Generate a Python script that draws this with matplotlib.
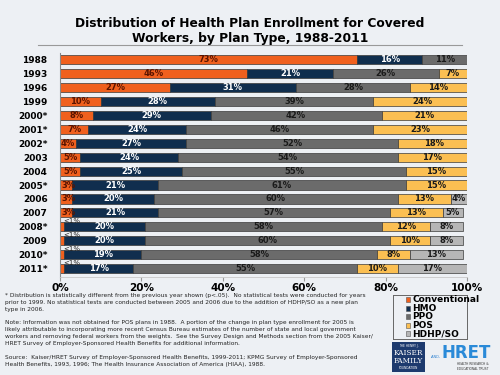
import matplotlib
matplotlib.use("Agg")
import matplotlib.pyplot as plt
from matplotlib.patches import Rectangle
import numpy as np

years = ["1988", "1993", "1996", "1999", "2000*", "2001*", "2002*", "2003", "2004",
         "2005*", "2006", "2007", "2008*", "2009", "2010*", "2011*"]
conventional = [73, 46, 27, 10, 8, 7, 4, 5, 5, 3, 3, 3, 1, 1, 1, 1]
hmo = [16, 21, 31, 28, 29, 24, 27, 24, 25, 21, 20, 21, 20, 20, 19, 17]
ppo = [11, 26, 28, 39, 42, 46, 52, 54, 55, 61, 60, 57, 58, 60, 58, 55]
pos = [0, 7, 14, 24, 21, 23, 18, 17, 15, 15, 13, 13, 12, 10, 8, 10]
hdhp = [0, 0, 0, 0, 0, 0, 0, 0, 0, 0, 4, 5, 8, 8, 13, 17]
conv_labels = ["73%", "46%", "27%", "10%", "8%", "7%", "4%", "5%", "5%", "3%", "3%", "3%",
               "<1%", "<1%", "<1%", "<1%"]
series_names = ["Conventional", "HMO", "PPO", "POS", "HDHP/SO"]
colors = ["#f0601e", "#102e4e", "#6b6b6b", "#fbbf52", "#b6b6b6"]
label_colors = ["#5a1400", "white", "#1a1a1a", "#1a1a1a", "#1a1a1a"]
xticks = [0, 20, 40, 60, 80, 100]
xtick_labels = ["0%", "20%", "40%", "60%", "80%", "100%"]

bg = "#edf0f4"
fig = plt.figure(figsize=(5, 3.75), dpi=100, facecolor=bg)
ax = fig.add_axes([0.12, 0.261, 0.814, 0.598], facecolor=bg)

y = np.arange(len(years))
data = [conventional, hmo, ppo, pos, hdhp]
left = np.zeros(len(years))
for i, (vals, c) in enumerate(zip(data, colors)):
    vals = np.array(vals, dtype=float)
    ax.barh(y, vals, left=left, height=0.66, color=c, edgecolor="#3a3a3a", linewidth=0.5,
            label=series_names[i])
    for j, v in enumerate(vals):
        if v <= 0:
            continue
        if i == 0 and conv_labels[j] == "<1%":
            ax.text(0.8, j - 0.42, "<1%", fontsize=5, color="#222222", ha="left", va="center")
            continue
        txt = conv_labels[j] if i == 0 else f"{int(v)}%"
        cx = left[j] + v / 2
        if i == 0 and v < 6:
            cx = left[j] + max(v / 2, 2.0)
        ax.text(cx, j, txt, fontsize=6, fontweight="bold", color=label_colors[i],
                ha="center", va="center")
    left += vals

ax.set_xlim(0, 100)
ax.set_ylim(15.62, -0.5)
ax.set_yticks(y)
ax.set_yticklabels(years, fontsize=6.5, fontweight="bold")
ax.tick_params(axis="y", length=0, pad=9)
ax.set_xticks(xticks)
ax.set_xticklabels(xtick_labels, fontsize=7.5, fontweight="bold")
ax.tick_params(axis="x", length=3, color="#999999", pad=1)
for s in ["top", "right"]:
    ax.spines[s].set_visible(False)
ax.spines["left"].set_color("#888888")
ax.spines["left"].set_linewidth(0.8)
ax.spines["bottom"].set_color("#c8c8c8")
ax.spines["bottom"].set_linewidth(0.6)

# Title
fig.text(0.5, 0.955, "Distribution of Health Plan Enrollment for Covered\nWorkers, by Plan Type, 1988-2011",
         ha="center", va="top", fontsize=8.8, fontweight="bold", linespacing=1.2)
fig.add_artist(plt.Line2D([0.076, 0.924], [0.88, 0.88], color="#999999", linewidth=0.8))

# Footnotes
foot = ("* Distribution is statistically different from the previous year shown (p<.05).  No statistical tests were conducted for years\n"
        "prior to 1999. No statistical tests are conducted between 2005 and 2006 due to the addition of HDHP/SO as a new plan\n"
        "type in 2006.")
note = ("Note: Information was not obtained for POS plans in 1988.  A portion of the change in plan type enrollment for 2005 is\n"
        "likely attributable to incorporating more recent Census Bureau estimates of the number of state and local government\n"
        "workers and removing federal workers from the weights.  See the Survey Design and Methods section from the 2005 Kaiser/\n"
        "HRET Survey of Employer-Sponsored Health Benefits for additional information.")
src = ("Source:  Kaiser/HRET Survey of Employer-Sponsored Health Benefits, 1999-2011; KPMG Survey of Employer-Sponsored\n"
       "Health Benefits, 1993, 1996; The Health Insurance Association of America (HIAA), 1988.")
fk = dict(fontsize=4.25, color="#222222", ha="left", va="top", linespacing=1.45)
fig.text(0.01, 0.218, foot, **fk)
fig.text(0.01, 0.146, note, **fk)
fig.text(0.01, 0.053, src, **fk)

# Legend
lax = fig.add_axes([0.786, 0.0962, 0.148, 0.116])
lax.set_xlim(0, 1)
lax.set_ylim(0, 1)
lax.set_xticks([])
lax.set_yticks([])
lax.set_facecolor(bg)
for s in lax.spines.values():
    s.set_color("#666666")
    s.set_linewidth(0.7)
for k, (n, c) in enumerate(zip(series_names, colors)):
    yy = 0.9 - k * 0.195
    lax.add_patch(Rectangle((0.17, yy - 0.06), 0.06, 0.12, facecolor=c, edgecolor="#555555", linewidth=0.4))
    lax.text(0.26, yy, n, fontsize=6.5, fontweight="bold", ha="left", va="center")

# Logos (as text)
kax = fig.add_axes([0.784, 0.008, 0.066, 0.08])
kax.set_facecolor("#1d3a6e")
kax.set_xticks([]); kax.set_yticks([])
for s in kax.spines.values():
    s.set_visible(False)
kax.text(0.5, 0.88, "THE HENRY J.", fontsize=2.2, color="white", ha="center", va="center")
kax.text(0.5, 0.62, "KAISER", fontsize=5.2, color="white", ha="center", va="center", family="DejaVu Serif")
kax.text(0.5, 0.36, "FAMILY", fontsize=5.2, color="white", ha="center", va="center", family="DejaVu Serif")
kax.text(0.5, 0.12, "FOUNDATION", fontsize=2.2, color="white", ha="center", va="center")
fig.text(0.872, 0.048, "-AND-", fontsize=2.5, color="#2a7fd0", ha="center", va="center")
fig.text(0.932, 0.06, "HRET", fontsize=12, fontweight="bold", color="#2a8ad8", ha="center", va="center")
fig.text(0.945, 0.022, "HEALTH RESEARCH &\nEDUCATIONAL TRUST", fontsize=2.2, color="#333333",
         ha="center", va="center", linespacing=1.2)

fig.savefig("out.png", dpi=100, facecolor=bg)
